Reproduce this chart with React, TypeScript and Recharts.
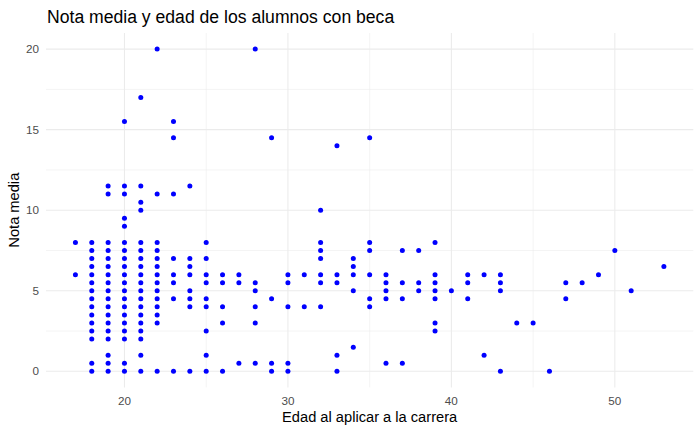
import React from 'react';
import { ScatterChart, Scatter, XAxis, YAxis, CartesianGrid, Label } from 'recharts';

const edades = [17, 18, 19, 20, 21, 22, 23, 24, 25, 26, 27, 28, 29, 30, 31, 32, 33, 34, 35, 36, 37, 38, 39, 40, 41, 42, 43, 44, 45, 46, 47, 48, 49, 50, 51, 53];

const notasPorEdad: number[][] = [
  [8, 6],
  [8, 7.5, 7, 6.5, 6, 5.5, 5, 4.5, 4, 3.5, 3, 2.5, 2, 0.5, 0],
  [11.5, 11, 8, 7.5, 7, 6.5, 6, 5.5, 5, 4.5, 4, 3.5, 3, 2.5, 2, 1, 0.5, 0],
  [15.5, 11.5, 11, 9.5, 9, 8, 7.5, 7, 6.5, 6, 5.5, 5, 4.5, 4, 3.5, 3, 2.5, 2, 0.5, 0],
  [17, 11.5, 10.5, 10, 8, 7.5, 7, 6.5, 6, 5.5, 5, 4.5, 4, 3.5, 3, 2.5, 2, 1, 0],
  [20, 11, 8, 7.5, 7, 6.5, 6, 5.5, 5, 4.5, 4, 3.5, 3, 0],
  [15.5, 14.5, 11, 7, 6, 5.5, 4.5, 0],
  [11.5, 7, 6.5, 6, 5, 4.5, 4, 0],
  [8, 7, 6, 5.5, 4.5, 4, 2.5, 1, 0],
  [6, 5.5, 4, 3, 0],
  [6, 5.5, 0.5],
  [20, 5.5, 5, 4, 3, 0.5],
  [14.5, 4.5, 0.5, 0],
  [6, 5.5, 4, 0.5, 0],
  [6, 4],
  [10, 8, 7.5, 7, 6, 5.5, 4],
  [14, 6, 5.5, 1, 0],
  [7, 6.5, 6, 5, 1.5],
  [14.5, 8, 7.5, 6, 4.5, 4],
  [6, 5.5, 5, 4.5, 0.5],
  [7.5, 5.5, 4.5, 0.5],
  [7.5, 5.5, 5],
  [8, 6, 5.5, 5, 4.5, 3, 2.5],
  [5],
  [6, 5.5, 4.5],
  [6, 1],
  [6, 5.5, 5, 0],
  [3],
  [3],
  [0],
  [5.5, 4.5],
  [5.5],
  [6],
  [7.5],
  [5],
  [6.5],
];

const xTicks = [20, 30, 40, 50];
const yTicks = [0, 5, 10, 15, 20];
const xMinor = [25, 35, 45];
const yMinor = [2.5, 7.5, 12.5, 17.5];

const titulo = 'Nota media y edad de los alumnos con beca';
const tituloX = 'Edad al aplicar a la carrera';
const tituloY = 'Nota media';

const data = edades.flatMap((e, i) => notasPorEdad[i].map((n) => ({ edad: e, nota: n })));

const FONT = '"Liberation Sans", Arial, sans-serif';

const Punto = (props: any) => {
  const { cx, cy } = props;
  if (cx == null || cy == null) return null;
  return <circle cx={cx} cy={cy} r={2.5} fill="#0000ff" />;
};

export default function App() {
  return (
    <div style={{ position: 'absolute', left: 0, top: 0, width: 700, height: 432, background: '#fff' }}>
      <ScatterChart width={700} height={432} margin={{ top: 33, right: 6.7, bottom: 0, left: 0 }} style={{ fontFamily: FONT }}>
        <CartesianGrid stroke="#ebebeb" strokeWidth={0.55} horizontalValues={yMinor} verticalValues={xMinor} />
        <CartesianGrid stroke="#ebebeb" strokeWidth={1.07} horizontalValues={yTicks} verticalValues={xTicks} />
        <XAxis
          type="number"
          dataKey="edad"
          domain={[15.2, 54.8]}
          ticks={xTicks}
          allowDataOverflow
          height={44.6}
          tickLine={false}
          axisLine={false}
          tickSize={0}
          tickMargin={9}
          tick={{ fill: '#4d4d4d', fontSize: 11.7, fontFamily: FONT }}
        >
          <Label
            content={(p: any) => {
              const vb = p.viewBox || {};
              return (
                <text x={vb.x + vb.width / 2} y={421.5} textAnchor="middle" fontSize={14.67} fill="#000" fontFamily={FONT}>
                  {tituloX}
                </text>
              );
            }}
          />
        </XAxis>
        <YAxis
          type="number"
          dataKey="nota"
          domain={[-1, 21]}
          ticks={yTicks}
          allowDataOverflow
          width={46}
          tickLine={false}
          axisLine={false}
          tickSize={0}
          tickMargin={7}
          tick={{ fill: '#4d4d4d', fontSize: 11.7, fontFamily: FONT }}
        >
          <Label
            content={(p: any) => {
              const vb = p.viewBox || {};
              const cy = vb.y + vb.height / 2;
              return (
                <text x={19} y={cy} transform={`rotate(-90 19 ${cy})`} textAnchor="middle" fontSize={14.67} fill="#000" fontFamily={FONT}>
                  {tituloY}
                </text>
              );
            }}
          />
        </YAxis>
        <Scatter data={data} shape={Punto} isAnimationActive={false} />
        <text x={47} y={23.3} fontSize={17.6} fill="#000" fontFamily={FONT}>
          {titulo}
        </text>
      </ScatterChart>
    </div>
  );
}
